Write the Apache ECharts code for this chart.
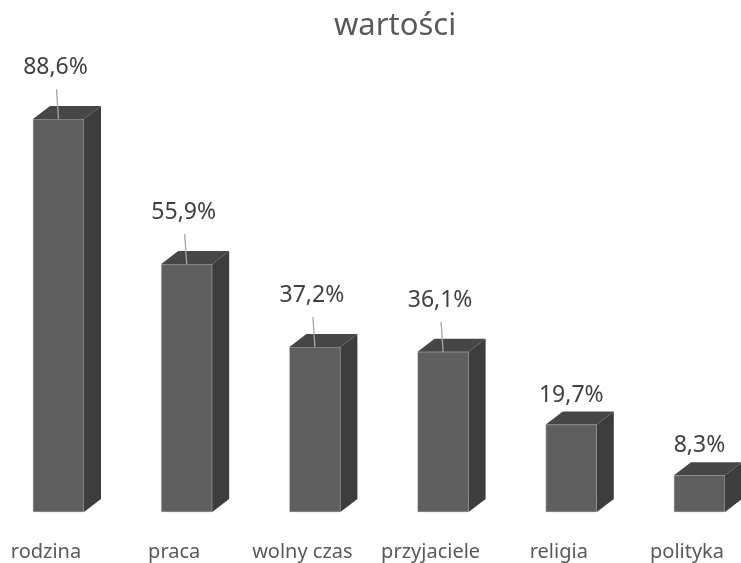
<!DOCTYPE html>
<html>
<head>
<meta charset="utf-8">
<script src="https://cdn.jsdelivr.net/npm/echarts@6/dist/echarts.min.js"></script>
<style>
  html, body { margin: 0; padding: 0; background: #fff; }
  #main { width: 741px; height: 563px; }
</style>
</head>
<body>
<div id="main"></div>
<script>
var categories = ['rodzina', 'praca', 'wolny czas', 'przyjaciele', 'religia', 'polityka'];
var values = [88.6, 55.9, 37.2, 36.1, 19.7, 8.3];

var FONT = '"Noto Sans", sans-serif';

// 3d box look
var W = 51, DX = 17, DY = 13, SHIFT = 13;

function fmt(v) {
    return v.toFixed(1).replace('.', ',') + '%';
}

function renderItem(params, api) {
    var top = api.coord([api.value(0), api.value(1)]);
    var base = api.coord([api.value(0), 0]);
    var x0 = top[0] - SHIFT;      // front face left
    var x1 = x0 + W;
    var yt = top[1], yb = base[1];
    var cx = (x0 + x1) / 2;
    var v = api.value(1);
    var leader = v > 30;  // tall bars get a leader line
    var gap = leader ? 40 : 18;
    var tx = leader ? cx - 3 : cx;

    var children = [
        { type: 'rect', shape: { x: x0, y: yt, width: W, height: yb - yt },
          style: { fill: '#5f5f5f', stroke: '#d6d6d6', lineWidth: 0.6 } },
        { type: 'polygon', shape: { points: [[x0, yt], [x0 + DX, yt - DY], [x1 + DX, yt - DY], [x1, yt]] },
          style: { fill: '#464646' } },
        { type: 'polygon', shape: { points: [[x1, yt], [x1 + DX, yt - DY], [x1 + DX, yb - DY], [x1, yb]] },
          style: { fill: '#3c3d3c' } }
    ];
    if (leader) {
        children.push({ type: 'line', shape: { x1: tx + 1, y1: yt - gap + 10, x2: cx, y2: yt },
            style: { stroke: '#a6a6a6', lineWidth: 1.3 } });
    }
    children.push({ type: 'text', x: tx, y: yt - gap,
        style: { text: fmt(v), fill: '#404040', font: '23px ' + FONT,
                 textAlign: 'center', textVerticalAlign: 'bottom' } });
    return { type: 'group', children: children };
}

var chart = echarts.init(document.getElementById('main'));
var option = {
    backgroundColor: '#fff',
    animation: false,
    title: {
        text: 'wartości',
        left: 329,
        top: 6,
        textStyle: { fontFamily: FONT, fontSize: 31, fontWeight: 'normal', color: '#595959' }
    },
    grid: { left: 46, right: 54, top: 68.4, bottom: 51 },
    xAxis: {
        type: 'category',
        data: categories,
        boundaryGap: false,
        axisLine: { show: false },
        axisTick: { show: false },
        axisLabel: { interval: 0, margin: 30, fontFamily: FONT, fontSize: 20, color: '#595959' }
    },
    yAxis: {
        type: 'value', min: 0, max: 100, show: false
    },
    series: [{
        type: 'custom',
        clip: false,
        renderItem: renderItem,
        data: values.map(function (v, i) { return [i, v]; })
    }]
};
chart.setOption(option);
</script>
</body>
</html>
